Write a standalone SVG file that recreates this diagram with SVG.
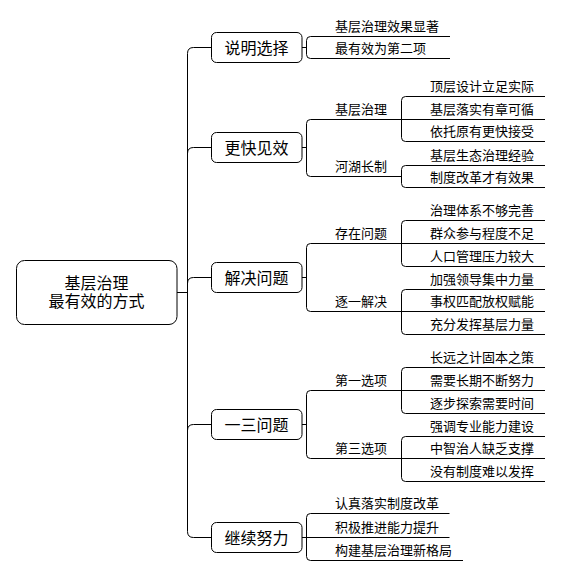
<svg xmlns="http://www.w3.org/2000/svg" width="561" height="576" viewBox="0 0 561 576">
<style>
.ln{fill:none;stroke:#000;stroke-width:1}
.box{fill:#fff;stroke:#000;stroke-width:1}
.t1{font-family:"Liberation Sans","Noto Sans CJK SC",sans-serif;font-size:16px;text-anchor:middle;fill:#000}
.t2{font-family:"Liberation Sans","Noto Sans CJK SC",sans-serif;font-size:13px;fill:#000}
</style>
<rect width="561" height="576" fill="#fff"/>
<g id="connectors" class="ln">
<path d="M177 292.5H187.5"/>
<path d="M211.5 47.5H193.5Q187.5 47.5 187.5 53.5V531.5Q187.5 537.5 193.5 537.5H211.5"/>
<path d="M187.5 153.5Q187.5 147.5 193.5 147.5H211.5"/>
<path d="M187.5 283.5Q187.5 277.5 193.5 277.5H211.5"/>
<path d="M187.5 430.5Q187.5 424.5 193.5 424.5H211.5"/>
<path d="M302 47.5H306.5M310.5 36.5Q306.5 36.5 306.5 40.5V54.5Q306.5 58.5 310.5 58.5"/>
<path d="M302 147.5H306.5M310.5 119.5Q306.5 119.5 306.5 123.5V172.5Q306.5 176.5 310.5 176.5"/>
<path d="M302 277.5H306.5M310.5 243.5Q306.5 243.5 306.5 247.5V307.5Q306.5 311.5 310.5 311.5"/>
<path d="M302 424.5H306.5M310.5 390.5Q306.5 390.5 306.5 394.5V454.5Q306.5 458.5 310.5 458.5"/>
<path d="M302 537.5H306.5M310.5 513.5Q306.5 513.5 306.5 517.5V556.5Q306.5 560.5 310.5 560.5"/>
<path d="M405.5 96.5Q401.5 96.5 401.5 100.5V137.5Q401.5 141.5 405.5 141.5"/>
<path d="M405.5 165.5Q401.5 165.5 401.5 169.5V183.5Q401.5 187.5 405.5 187.5"/>
<path d="M405.5 220.5Q401.5 220.5 401.5 224.5V262.5Q401.5 266.5 405.5 266.5"/>
<path d="M405.5 289.5Q401.5 289.5 401.5 293.5V330.5Q401.5 334.5 405.5 334.5"/>
<path d="M405.5 367.5Q401.5 367.5 401.5 371.5V409.5Q401.5 413.5 405.5 413.5"/>
<path d="M405.5 436.5Q401.5 436.5 401.5 440.5V477.5Q401.5 481.5 405.5 481.5"/>
</g>
<g id="root">
<rect class="box" x="16.5" y="260.5" width="160.5" height="64" rx="8"/>
<text class="t1" x="96.5" y="288.5">基层治理</text>
<text class="t1" x="96.5" y="306.5">最有效的方式</text>
</g>
<g id="n1"><rect class="box" x="211.5" y="32.5" width="90.5" height="30" rx="5"/><text class="t1" x="256.5" y="53.5">说明选择</text></g>
<g id="n2"><rect class="box" x="211.5" y="132.5" width="90.5" height="30" rx="5"/><text class="t1" x="256.5" y="153.5">更快见效</text></g>
<g id="n3"><rect class="box" x="211.5" y="262.5" width="90.5" height="30" rx="5"/><text class="t1" x="256.5" y="283.5">解决问题</text></g>
<g id="n4"><rect class="box" x="211.5" y="409.5" width="90.5" height="30" rx="5"/><text class="t1" x="256.5" y="430.5">一三问题</text></g>
<g id="n5"><rect class="box" x="211.5" y="522.5" width="90.5" height="30" rx="5"/><text class="t1" x="256.5" y="543.5">继续努力</text></g>

<g id="n1a"><path class="ln" d="M310.5 36.5H450"/><text class="t2" x="335" y="30.5">基层治理效果显著</text></g>
<g id="n1b"><path class="ln" d="M310.5 58.5H450"/><text class="t2" x="335" y="52.5">最有效为第二项</text></g>

<g id="n2a"><path class="ln" d="M310.5 119.5H401.5"/><text class="t2" x="335" y="113.5">基层治理</text></g>
<g id="n2a1"><path class="ln" d="M405.5 96.5H545"/><text class="t2" x="430" y="90.5">顶层设计立足实际</text></g>
<g id="n2a2"><path class="ln" d="M401.5 119.5H545"/><text class="t2" x="430" y="113.5">基层落实有章可循</text></g>
<g id="n2a3"><path class="ln" d="M405.5 141.5H545"/><text class="t2" x="430" y="135.5">依托原有更快接受</text></g>
<g id="n2b"><path class="ln" d="M310.5 176.5H401.5"/><text class="t2" x="335" y="170.5">河湖长制</text></g>
<g id="n2b1"><path class="ln" d="M405.5 165.5H545"/><text class="t2" x="430" y="159.5">基层生态治理经验</text></g>
<g id="n2b2"><path class="ln" d="M405.5 187.5H545"/><text class="t2" x="430" y="181.5">制度改革才有效果</text></g>

<g id="n3a"><path class="ln" d="M310.5 243.5H401.5"/><text class="t2" x="335" y="237.5">存在问题</text></g>
<g id="n3a1"><path class="ln" d="M405.5 220.5H545"/><text class="t2" x="430" y="214.5">治理体系不够完善</text></g>
<g id="n3a2"><path class="ln" d="M401.5 243.5H545"/><text class="t2" x="430" y="237.5">群众参与程度不足</text></g>
<g id="n3a3"><path class="ln" d="M405.5 266.5H545"/><text class="t2" x="430" y="260.5">人口管理压力较大</text></g>
<g id="n3b"><path class="ln" d="M310.5 311.5H401.5"/><text class="t2" x="335" y="305.5">逐一解决</text></g>
<g id="n3b1"><path class="ln" d="M405.5 289.5H545"/><text class="t2" x="430" y="283.5">加强领导集中力量</text></g>
<g id="n3b2"><path class="ln" d="M401.5 311.5H545"/><text class="t2" x="430" y="305.5">事权匹配放权赋能</text></g>
<g id="n3b3"><path class="ln" d="M405.5 334.5H545"/><text class="t2" x="430" y="328.5">充分发挥基层力量</text></g>

<g id="n4a"><path class="ln" d="M310.5 390.5H401.5"/><text class="t2" x="335" y="384.5">第一选项</text></g>
<g id="n4a1"><path class="ln" d="M405.5 367.5H545"/><text class="t2" x="430" y="361.5">长远之计固本之策</text></g>
<g id="n4a2"><path class="ln" d="M401.5 390.5H545"/><text class="t2" x="430" y="384.5">需要长期不断努力</text></g>
<g id="n4a3"><path class="ln" d="M405.5 413.5H545"/><text class="t2" x="430" y="407.5">逐步探索需要时间</text></g>
<g id="n4b"><path class="ln" d="M310.5 458.5H401.5"/><text class="t2" x="335" y="452.5">第三选项</text></g>
<g id="n4b1"><path class="ln" d="M405.5 436.5H545"/><text class="t2" x="430" y="430.5">强调专业能力建设</text></g>
<g id="n4b2"><path class="ln" d="M401.5 458.5H545"/><text class="t2" x="430" y="452.5">中智治人缺乏支撑</text></g>
<g id="n4b3"><path class="ln" d="M405.5 481.5H545"/><text class="t2" x="430" y="475.5">没有制度难以发挥</text></g>

<g id="n5a"><path class="ln" d="M310.5 513.5H449.5"/><text class="t2" x="335" y="507.5">认真落实制度改革</text></g>
<g id="n5b"><path class="ln" d="M306.5 537.5H449.5"/><text class="t2" x="335" y="531.5">积极推进能力提升</text></g>
<g id="n5c"><path class="ln" d="M310.5 560.5H463"/><text class="t2" x="335" y="554.5">构建基层治理新格局</text></g>
</svg>
